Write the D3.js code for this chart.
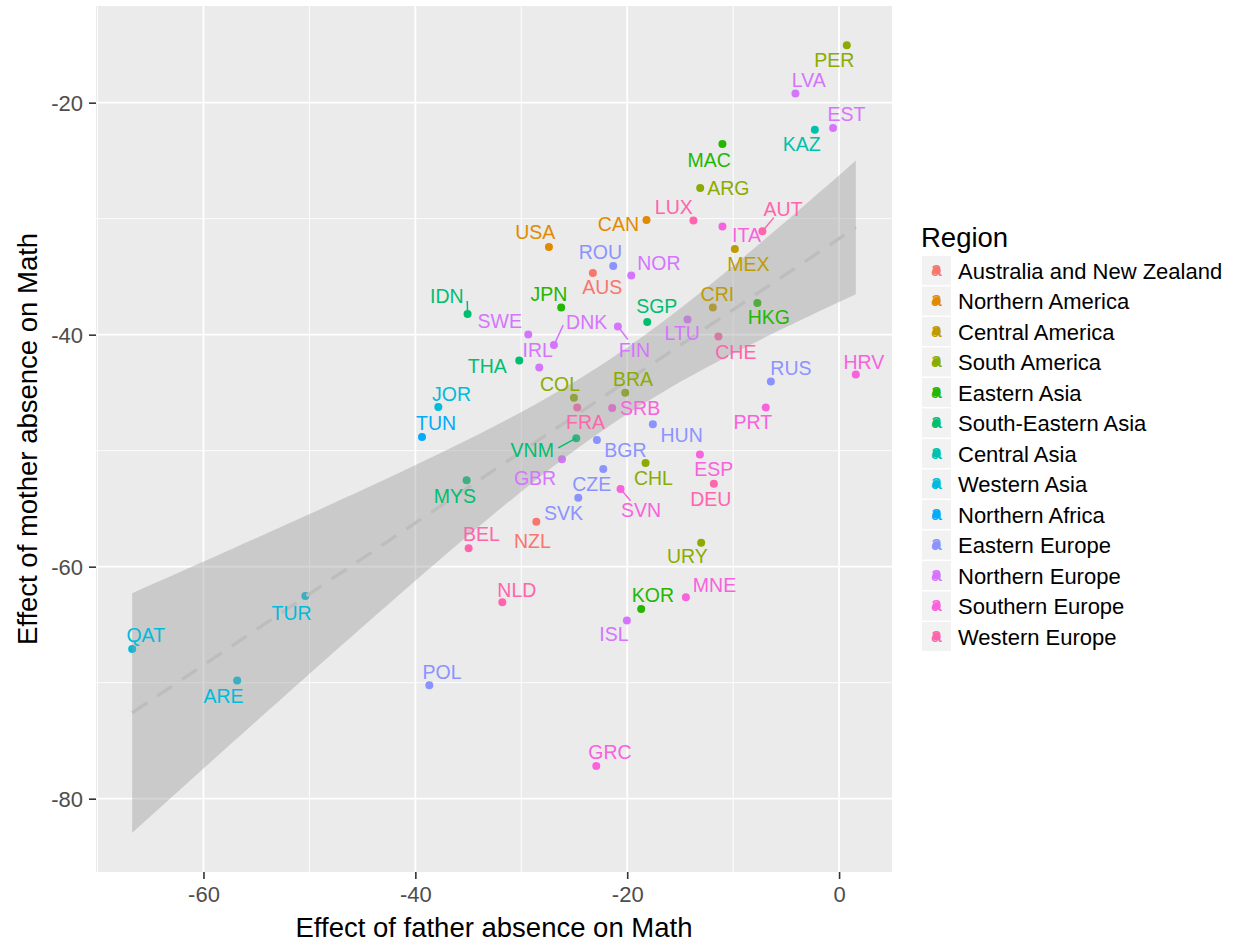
<!DOCTYPE html>
<html>
<head>
<meta charset="utf-8">
<script src="https://cdn.jsdelivr.net/npm/d3@7"></script>
<style>
  body { margin: 0; background: #fff; }
  text { font-family: "Liberation Sans", Arial, Helvetica, sans-serif; }
</style>
</head>
<body>
<div id="chart"></div>
<script>
//Dimensions of the page and of the grey panel
const width = 1238;
const height = 944;
const panel = {left: 96, right: 892, top: 6, bottom: 872};

//Regions and the ggplot hue palette
const regions = ["Australia and New Zealand", "Northern America", "Central America", "South America",
  "Eastern Asia", "South-Eastern Asia", "Central Asia", "Western Asia", "Northern Africa",
  "Eastern Europe", "Northern Europe", "Southern Europe", "Western Europe"];
const regionColors = ["#F8766D", "#E18A00", "#BE9C00", "#8CAB00", "#24B700", "#00BE70", "#00C1AB",
  "#00BBDA", "#00ACFC", "#8B93FF", "#D575FE", "#F962DD", "#FF65AC"];

//Countries
const codes = ["PER", "LVA", "EST", "KAZ", "MAC", "ARG", "CAN", "LUX", "ITA", "AUT",
  "USA", "MEX", "ROU", "AUS", "NOR", "JPN", "SGP", "CRI", "HKG", "LTU",
  "SWE", "FIN", "DNK", "CHE", "IRL", "THA", "RUS", "HRV", "COL", "BRA",
  "FRA", "SRB", "PRT", "HUN", "VNM", "BGR", "GBR", "ESP", "CHL", "CZE",
  "DEU", "SVN", "SVK", "NZL", "URY", "IDN", "JOR", "TUN", "MYS", "BEL",
  "TUR", "QAT", "ARE", "POL", "NLD", "KOR", "MNE", "ISL", "GRC"];
const fatherEffect = [0.73, -4.12, -0.57, -2.29, -11.01, -13.11, -18.18, -13.75, -11.01, -7.24,
  -27.39, -9.84, -21.32, -23.24, -19.62, -26.23, -18.11, -11.92, -7.71, -14.31,
  -29.34, -20.88, -26.92, -11.39, -28.30, -30.19, -6.44, 1.58, -25.03, -20.19,
  -24.72, -21.42, -6.92, -17.58, -24.81, -22.86, -26.16, -13.14, -18.27, -22.26,
  -11.82, -20.63, -24.62, -28.58, -13.02, -35.07, -37.83, -39.37, -35.16, -34.97,
  -50.38, -66.73, -56.82, -38.68, -31.79, -18.68, -14.46, -20.03, -22.92];
const motherEffect = [-15.06, -19.20, -22.19, -22.33, -23.57, -27.36, -30.11, -30.16, -30.68, -31.09,
  -32.44, -32.61, -34.07, -34.68, -34.90, -37.66, -38.90, -37.66, -37.26, -38.69,
  -39.98, -39.29, -40.90, -40.15, -42.83, -42.22, -44.03, -43.43, -45.44, -45.01,
  -46.27, -46.33, -46.27, -47.73, -48.92, -49.09, -50.75, -50.32, -51.07, -51.58,
  -52.85, -53.31, -54.06, -56.12, -57.93, -38.21, -46.24, -48.83, -52.56, -58.42,
  -62.52, -67.09, -69.82, -70.22, -63.07, -63.64, -62.64, -64.65, -77.19];
const countryRegion = ["South America", "Northern Europe", "Northern Europe", "Central Asia", "Eastern Asia",
  "South America", "Northern America", "Western Europe", "Southern Europe", "Western Europe",
  "Northern America", "Central America", "Eastern Europe", "Australia and New Zealand", "Northern Europe",
  "Eastern Asia", "South-Eastern Asia", "Central America", "Eastern Asia", "Northern Europe",
  "Northern Europe", "Northern Europe", "Northern Europe", "Western Europe", "Northern Europe",
  "South-Eastern Asia", "Eastern Europe", "Southern Europe", "South America", "South America",
  "Western Europe", "Southern Europe", "Southern Europe", "Eastern Europe", "South-Eastern Asia",
  "Eastern Europe", "Northern Europe", "Southern Europe", "South America", "Eastern Europe",
  "Western Europe", "Southern Europe", "Eastern Europe", "Australia and New Zealand", "South America",
  "South-Eastern Asia", "Western Asia", "Northern Africa", "South-Eastern Asia", "Western Europe",
  "Western Asia", "Western Asia", "Western Asia", "Eastern Europe", "Western Europe",
  "Eastern Asia", "Southern Europe", "Northern Europe", "Southern Europe"];

//Where each repelled label sits, in pixels from its point (layout only)
const labelOffset = {
  PER: [-12.4, 14.3], LVA: [13.4, -13], EST: [13.5, -14.4], KAZ: [-13, 14.5], MAC: [-13.3, 15.5],
  ARG: [28.2, -0.2], CAN: [-28.1, 4], LUX: [-19.6, -13.8], ITA: [24, 8.9], AUT: [20.7, -22.7],
  USA: [-13.7, -15], MEX: [13.5, 14.6], ROU: [-12.8, -13.9], AUS: [9.3, 14.3], NOR: [27.7, -12.8],
  JPN: [-12.3, -13.6], SGP: [9.5, -15.9], CRI: [4.6, -13.6], HKG: [11.5, 14], LTU: [-5.3, 14],
  SWE: [-28.5, -13.3], FIN: [16.5, 23.5], DNK: [32.8, -23.2], CHE: [17.4, 15.4], IRL: [-1.5, -17.5],
  THA: [-32, 5.2], RUS: [20.1, -13], HRV: [8, -12.6], COL: [-13.9, -13.9], BRA: [7.8, -13.5],
  FRA: [8.3, 14.9], SRB: [28, -0.5], PRT: [-12.9, 14.9], HUN: [28.8, 10.9], VNM: [-44, 12.2],
  BGR: [28.5, 9.8], GBR: [-26.9, 18.2], ESP: [13.8, 14.9], CHL: [7.9, 14.5], CZE: [-11.5, 15.2],
  DEU: [-3, 14.8], SVN: [20.5, 21.2], SVK: [-14.8, 15.5], NZL: [-4, 19.1], URY: [-13.7, 13.1],
  IDN: [-20.8, -17.9], JOR: [13.2, -12.8], TUN: [14.1, -14.5], MYS: [-11.8, 15.5], BEL: [12.7, -14.1],
  TUR: [-13.8, 17.5], QAT: [13.6, -13.7], ARE: [-13.7, 15.1], POL: [12.7, -13.5], NLD: [14.5, -12.6],
  KOR: [11.8, -13.5], MNE: [28.6, -12.3], ISL: [-12.9, 13.5], GRC: [13.7, -13.8]
};
//Leader segments drawn by ggrepel, end point in pixels from the point
const segmentEnd = {
  IDN: [-0.3, -13], AUT: [11.4, -13.7], DNK: [9.3, -20], FIN: [10, 13], VNM: [-18, 9.7], SVN: [10, 11.7]
};

const data = codes.map((c, i) => ({code: c, x: fatherEffect[i], y: motherEffect[i], region: countryRegion[i]}));
const color = d3.scaleOrdinal().domain(regions).range(regionColors);

//Linear fit with a 95% confidence band (like geom_smooth(method = "lm"))
const n = data.length;
const mx = d3.mean(fatherEffect), my = d3.mean(motherEffect);
const sxx = d3.sum(fatherEffect, v => (v - mx) ** 2);
const sxy = d3.sum(data, d => (d.x - mx) * (d.y - my));
const slope = sxy / sxx;
const intercept = my - slope * mx;
const sse = d3.sum(data, d => (d.y - intercept - slope * d.x) ** 2);
const sigma = Math.sqrt(sse / (n - 2));
const tq = 2.0025; // qt(0.975, 57)
const [xMin, xMax] = d3.extent(fatherEffect);
const fit = d3.range(80).map(i => {
  const x = xMin + i * (xMax - xMin) / 79;
  const yhat = intercept + slope * x;
  const se = sigma * Math.sqrt(1 / n + (x - mx) ** 2 / sxx);
  return {x: x, y: yhat, lo: yhat - tq * se, hi: yhat + tq * se};
});

//Scales with the 5% ggplot expansion
const xPad = (xMax - xMin) * 0.05;
const yLo = Math.min(d3.min(motherEffect), d3.min(fit, d => d.lo));
const yHi = Math.max(d3.max(motherEffect), d3.max(fit, d => d.hi));
const yPad = (yHi - yLo) * 0.05;
const x = d3.scaleLinear().domain([xMin - xPad, xMax + xPad]).range([panel.left, panel.right]);
const y = d3.scaleLinear().domain([yLo - yPad, yHi + yPad]).range([panel.bottom, panel.top]);

const svg = d3.select("#chart").append("svg").attr("width", width).attr("height", height);

//Panel background
svg.append("rect").attr("x", panel.left).attr("y", panel.top)
  .attr("width", panel.right - panel.left).attr("height", panel.bottom - panel.top).attr("fill", "#EBEBEB");

//Grid lines, minor ones halfway between the majors
const xMajor = x.ticks(4), yMajor = y.ticks(4);
const xStep = xMajor[1] - xMajor[0], yStep = yMajor[1] - yMajor[0];
const minorOf = (major, step, scale) => {
  const [d0, d1] = scale.domain();
  return major.map(v => v - step / 2).concat([major[major.length - 1] + step / 2])
    .filter(v => v >= Math.min(d0, d1) - 0.5 && v <= Math.max(d0, d1));
};
const grid = svg.append("g");
grid.selectAll(".xminor").data(minorOf(xMajor, xStep, x)).enter().append("line")
  .attr("x1", d => x(d)).attr("x2", d => x(d)).attr("y1", panel.top).attr("y2", panel.bottom)
  .attr("stroke", "#fff").attr("stroke-width", 0.9);
grid.selectAll(".yminor").data(minorOf(yMajor, yStep, y)).enter().append("line")
  .attr("y1", d => y(d)).attr("y2", d => y(d)).attr("x1", panel.left).attr("x2", panel.right)
  .attr("stroke", "#fff").attr("stroke-width", 0.9);
grid.selectAll(".xmajor").data(xMajor).enter().append("line")
  .attr("x1", d => x(d)).attr("x2", d => x(d)).attr("y1", panel.top).attr("y2", panel.bottom)
  .attr("stroke", "#fff").attr("stroke-width", 1.8);
grid.selectAll(".ymajor").data(yMajor).enter().append("line")
  .attr("y1", d => y(d)).attr("y2", d => y(d)).attr("x1", panel.left).attr("x2", panel.right)
  .attr("stroke", "#fff").attr("stroke-width", 1.8);

//Points
svg.append("g").selectAll("circle").data(data).enter().append("circle")
  .attr("cx", d => x(d.x)).attr("cy", d => y(d.y)).attr("r", 4)
  .attr("fill", d => color(d.region));

//Confidence band and dashed fit line on top of the points
svg.append("path").datum(fit)
  .attr("d", d3.area().x(d => x(d.x)).y0(d => y(d.lo)).y1(d => y(d.hi)))
  .attr("fill", "#999999").attr("fill-opacity", 0.4);
svg.append("path").datum(fit)
  .attr("d", d3.line().x(d => x(d.x)).y(d => y(d.y)))
  .attr("fill", "none").attr("stroke", "#BDBDBD").attr("stroke-width", 3.3)
  .attr("stroke-dasharray", "18,12");

//Leader segments and labels
const labels = svg.append("g");
labels.selectAll("line").data(data.filter(d => segmentEnd[d.code])).enter().append("line")
  .attr("x1", d => x(d.x)).attr("y1", d => y(d.y))
  .attr("x2", d => x(d.x) + segmentEnd[d.code][0]).attr("y2", d => y(d.y) + segmentEnd[d.code][1])
  .attr("stroke", d => color(d.region)).attr("stroke-width", 1.5);
labels.selectAll("text").data(data).enter().append("text")
  .attr("x", d => x(d.x) + labelOffset[d.code][0])
  .attr("y", d => y(d.y) + labelOffset[d.code][1] + 7)
  .attr("text-anchor", "middle").style("font-size", "19.5px")
  .attr("fill", d => color(d.region)).text(d => d.code);

//Axes, with a plain hyphen for negatives as in R
const plain = d => String(d);
const xAxis = svg.append("g").attr("transform", `translate(0, ${panel.bottom})`)
  .call(d3.axisBottom(x).tickValues(xMajor).tickFormat(plain).tickSize(7).tickPadding(7.5));
const yAxis = svg.append("g").attr("transform", `translate(${panel.left}, 0)`)
  .call(d3.axisLeft(y).tickValues(yMajor).tickFormat(plain).tickSize(7).tickPadding(6));
[xAxis, yAxis].forEach(ax => {
  ax.select(".domain").remove();
  ax.selectAll(".tick line").attr("stroke", "#333333").attr("stroke-width", 1.6);
  ax.selectAll(".tick text").attr("fill", "#4D4D4D").style("font-size", "22px")
    .style("font-family", "'Liberation Sans', Arial, Helvetica, sans-serif");
});
yAxis.selectAll(".tick text").attr("dy", "0.36em");

//Axis titles
svg.append("text").attr("x", (panel.left + panel.right) / 2).attr("y", 937)
  .attr("text-anchor", "middle").style("font-size", "27.5px").attr("fill", "#000")
  .text("Effect of father absence on Math");
svg.append("text").attr("transform", `translate(37, ${(panel.top + panel.bottom) / 2}) rotate(-90)`)
  .attr("text-anchor", "middle").style("font-size", "27.5px").attr("fill", "#000")
  .text("Effect of mother absence on Math");

//Legend
const legend = svg.append("g").attr("transform", "translate(922, 256)");
legend.append("text").attr("x", -1).attr("y", -9).style("font-size", "27.5px").text("Region");
const keys = legend.selectAll("g").data(regions).enter().append("g")
  .attr("transform", (d, i) => `translate(0, ${i * 30.5})`);
keys.append("rect").attr("width", 29).attr("height", 29).attr("fill", "#F2F2F2");
keys.append("circle").attr("cx", 14.5).attr("cy", 14.5).attr("r", 4).attr("fill", d => color(d));
keys.append("text").attr("x", 14.5).attr("y", 19.5).attr("text-anchor", "middle")
  .style("font-size", "19.5px").attr("fill", d => color(d)).text("a");
keys.append("text").attr("x", 36).attr("y", 22.5).style("font-size", "22px").attr("fill", "#000").text(d => d);
</script>
</body>
</html>
